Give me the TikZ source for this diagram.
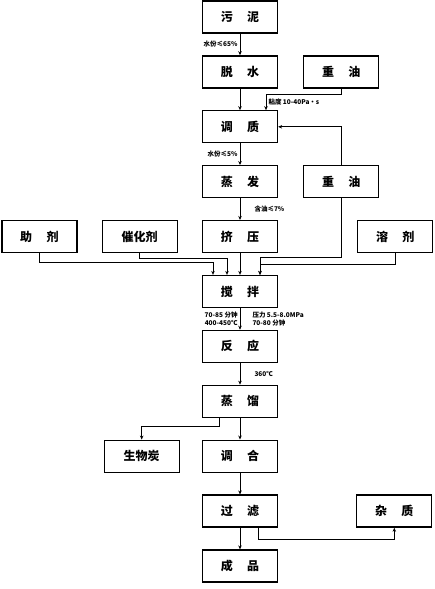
\documentclass[tikz,border=0pt]{standalone}
\usepackage{fontspec}
\setmainfont{Noto Sans CJK SC}
\usetikzlibrary{arrows.meta, positioning}

\begin{document}
\begin{tikzpicture}[
    x=1pt, y=-1pt,
    node distance=21.6pt and 24pt,
    stepbox/.style={rectangle, draw, line width=1.3pt, minimum width=75pt, minimum height=32pt,
                    inner sep=0pt, text centered, font=\fontsize{12}{13}\selectfont\bfseries},
    note/.style={font=\fontsize{6.5}{8}\selectfont\bfseries, inner sep=2pt},
    arrow/.style={-{Stealth[length=4pt,width=3.5pt]}, line width=1pt}
]
\useasboundingbox (0,0) rectangle (434,589);

% main column
\node[stepbox] (sludge) at (240,17) {污\hspace{1.2em}泥};
\node[stepbox, below=of sludge] (dewater) {脱\hspace{1.2em}水};
\node[stepbox, below=of dewater] (condition) {调\hspace{1.2em}质};
\node[stepbox, below=of condition] (evaporate) {蒸\hspace{1.2em}发};
\node[stepbox, below=of evaporate] (squeeze) {挤\hspace{1.2em}压};
\node[stepbox, below=of squeeze] (stir) {搅\hspace{1.2em}拌};
\node[stepbox, below=of stir] (react) {反\hspace{1.2em}应};
\node[stepbox, below=of react] (distill) {蒸\hspace{1.2em}馏};
\node[stepbox, below=of distill] (blend) {调\hspace{1.2em}合};
\node[stepbox, below=of blend] (filter) {过\hspace{1.2em}滤};
\node[stepbox, below=of filter] (product) {成\hspace{1.2em}品};

% side inputs and outputs
\node[stepbox, right=25pt of dewater] (oilA) {重\hspace{1.2em}油};
\node[stepbox, right=25pt of evaporate] (oilB) {重\hspace{1.2em}油};
\node[stepbox, left=of squeeze] (catalyst) {催化剂};
\node[stepbox, left=of catalyst] (additive) {助\hspace{1.2em}剂};
\node[stepbox, right=79pt of squeeze] (solvent) {溶\hspace{1.2em}剂};
\node[stepbox, left=22pt of blend] (biochar) {生物炭};
\node[stepbox, right=78pt of filter] (impurity) {杂\hspace{1.2em}质};

\draw[arrow] (sludge) -- node[note, left]{水份≤65\%} (dewater);
\draw[arrow] (dewater) -- (condition);
\draw[arrow] (oilA.south) -- ++(0,6) -| node[note, right, pos=0.75]{粘度 10-40Pa·s} ([xshift=26pt]condition.north);
\draw[arrow] (oilB.north) |- (condition.east);
\draw[arrow] (condition) -- node[note, left]{水份≤5\%} (evaporate);
\draw[arrow] (evaporate) -- node[note, right, xshift=12pt]{含油≤7\%} (squeeze);

\draw[arrow] (additive.south) -- ++(0,9) -| ([xshift=-27pt]stir.north);
\draw[arrow] (catalyst.south) -- ++(0,5) -| ([xshift=-13pt]stir.north);
\draw[arrow] (squeeze) -- (stir);
\draw[arrow] (oilB.south) -- ++(0,59) -| ([xshift=20pt]stir.north);
\draw[arrow] (solvent.south) -- ++(0,11) -| ([xshift=20pt]stir.north);

\draw[arrow] (stir) -- node[note, left, align=right]{70-85 分钟\\400-450℃}
    node[note, right, align=left, xshift=10pt]{压力 5.5-8.0MPa\\70-80 分钟} (react);
\draw[arrow] (react) -- node[note, right, xshift=12pt]{360℃} (distill);
\draw[arrow] (distill) -- (blend);
\draw[arrow] ([xshift=-21pt]distill.south) -- ++(0,9) -| (biochar.north);
\draw[arrow] (blend) -- (filter);
\draw[arrow] (filter) -- (product);
\draw[arrow] ([xshift=18pt]filter.south) -- ++(0,12) -| (impurity.south);

\end{tikzpicture}
\end{document}
